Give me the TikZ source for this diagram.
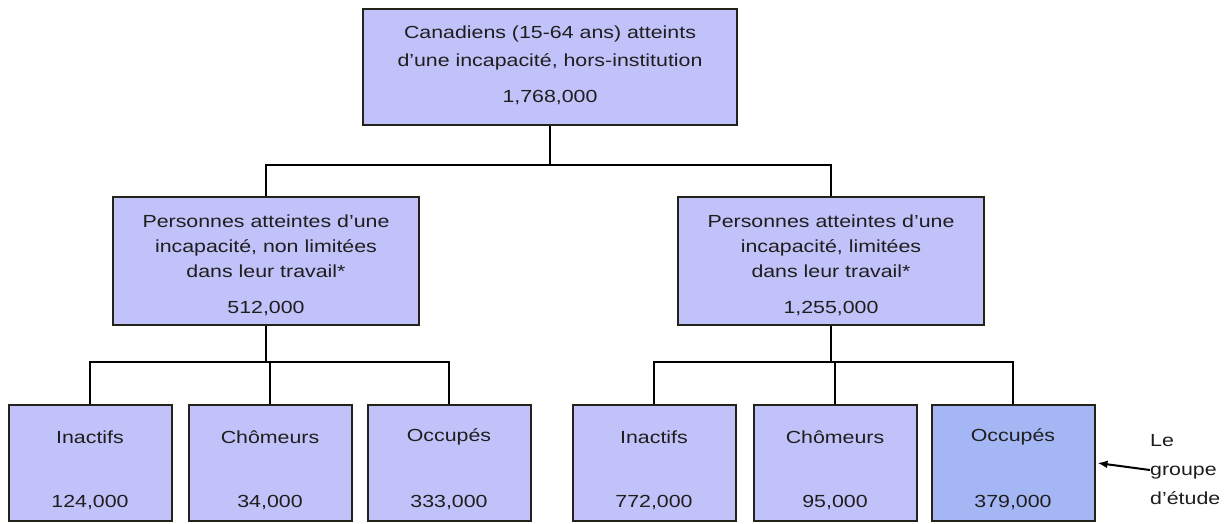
\documentclass[tikz,border=0pt]{standalone}
\usepackage{fontspec}
\setmainfont[FakeStretch=1.22]{Liberation Sans}
\usetikzlibrary{arrows.meta}
\definecolor{boxfill}{RGB}{194,194,250}
\definecolor{studyfill}{RGB}{165,182,245}
\definecolor{edgecol}{RGB}{35,35,25}
\definecolor{txtcol}{RGB}{30,30,30}
\begin{document}
\begin{tikzpicture}[x=1pt,y=-1pt,
  box/.style={draw=edgecol, line width=2pt, fill=boxfill, inner sep=0pt},
  topbox/.style={box, minimum width=374pt, minimum height=116pt},
  midbox/.style={box, minimum width=306pt, minimum height=128pt},
  lowbox/.style={box, minimum width=163pt, minimum height=116pt},
  txt/.style={font=\fontsize{17.5}{25}\selectfont, align=center, inner sep=0pt, text=txtcol},
  conn/.style={draw=black, line width=2pt},
  arr/.style={draw=black, line width=2pt, -{Latex[length=10pt,width=8pt]}}]
\useasboundingbox (0,0) rectangle (1225,523);
\fill[white] (0,0) rectangle (1225,523);

% boxes
\node[topbox] (top) at (550,67) {};
\node[midbox] (ml) at (266,261) {};
\node[midbox] (mr) at (831,261) {};
\node[lowbox] (b1) at (90,463) {};
\node[lowbox] (b2) at (270,463) {};
\node[lowbox] (b3) at (449,463) {};
\node[lowbox] (b4) at (654,463) {};
\node[lowbox] (b5) at (835,463) {};
\node[lowbox, fill=studyfill] (b6) at (1013,463) {};

% texts
\node[txt, font=\fontsize{17.5}{28}\selectfont] (t0) at (550,48) {Canadiens (15-64 ans) atteints\\d'une incapacité, hors-institution};
\node[txt] (n0) at (550,98) {1,768,000};
\node[txt] (t1) at (266,246) {Personnes atteintes d'une\\incapacité, non limitées\\dans leur travail*};
\node[txt] (n1) at (266,309) {512,000};
\node[txt] (t2) at (831,246) {Personnes atteintes d'une\\incapacité, limitées\\dans leur travail*};
\node[txt] (n2) at (831,309) {1,255,000};
\node[txt] (l1) at (90,437) {Inactifs};
\node[txt] (v1) at (90,502) {124,000};
\node[txt] (l2) at (270,437) {Chômeurs};
\node[txt] (v2) at (270,502) {34,000};
\node[txt] (l3) at (449,437) {Occupés};
\node[txt] (v3) at (449,502) {333,000};
\node[txt] (l4) at (654,437) {Inactifs};
\node[txt] (v4) at (654,502) {772,000};
\node[txt] (l5) at (835,437) {Chômeurs};
\node[txt] (v5) at (835,502) {95,000};
\node[txt] (l6) at (1013,437) {Occupés};
\node[txt] (v6) at (1013,502) {379,000};

\node[txt, align=left, anchor=west, font=\fontsize{17.5}{29}\selectfont] (grp) at (1150,470) {Le\\groupe\\d'étude};

% connectors
\coordinate (j0) at (550,165);
\draw[conn] (top.south) -- (j0);
\draw[conn] (ml.north) |- (j0) -| (mr.north);
\coordinate (j1) at (266,362);
\draw[conn] (ml.south) -- (j1);
\draw[conn] (b1.north) |- (j1) -| (b3.north);
\draw[conn] (b2.north) -- (b2.north |- j1);
\coordinate (j2) at (831,362);
\draw[conn] (mr.south) -- (j2);
\draw[conn] (b4.north) |- (j2) -| (b6.north);
\draw[conn] (b5.north) -- (b5.north |- j2);

\draw[arr] (grp.west) -- ([xshift=2pt]b6.east);
\end{tikzpicture}
\end{document}
